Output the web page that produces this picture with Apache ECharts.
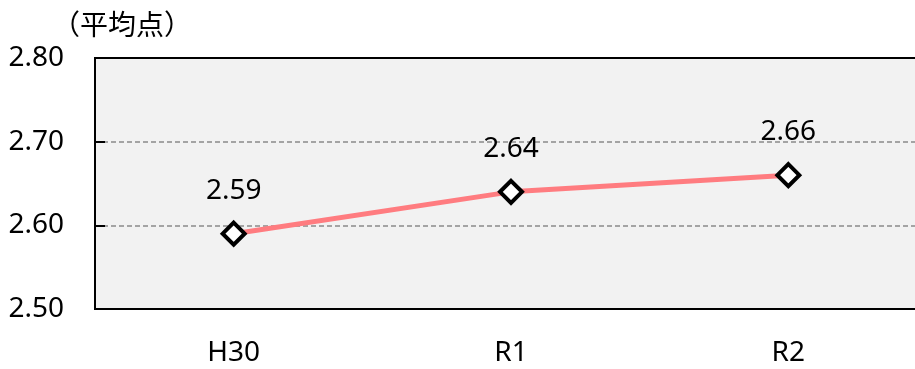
<!DOCTYPE html>
<html>
<head>
<meta charset="utf-8">
<style>
  html, body { margin: 0; padding: 0; background: #ffffff; }
  #chart { width: 915px; height: 369px; }
</style>
<script src="https://cdn.jsdelivr.net/npm/echarts@6/dist/echarts.min.js"></script>
</head>
<body>
<div id="chart"></div>
<script>
// Average score by year
const categories = ['H30', 'R1', 'R2'];
const averageScores = [2.59, 2.64, 2.66];
const yTicks = { min: 2.5, max: 2.8, interval: 0.1 };
const unitLabel = '（平均点）';

const FONT = '"Noto Sans", "Noto Sans CJK JP", sans-serif';
const FONT_SIZE = 28;

const chart = echarts.init(document.getElementById('chart'), null, { renderer: 'canvas' });

chart.setOption({
  backgroundColor: '#ffffff',
  animation: false,
  graphic: [{
    type: 'text',
    left: 52,
    top: 10,
    style: {
      text: unitLabel,
      font: '28px "Noto Sans CJK JP", sans-serif',
      fill: '#000000'
    }
  }],
  grid: {
    left: 95,
    top: 58,
    width: 832,
    height: 251,
    outerBoundsMode: 'none',
    containLabel: false,
    show: true,
    backgroundColor: '#f2f2f2',
    borderColor: '#000000',
    borderWidth: 2
  },
  xAxis: {
    type: 'category',
    data: categories,
    boundaryGap: true,
    axisLine: { show: true, lineStyle: { color: '#000000', width: 2 } },
    axisTick: { show: false },
    axisLabel: {
      color: '#000000',
      fontSize: FONT_SIZE,
      fontFamily: FONT,
      margin: 30
    },
    splitLine: { show: false }
  },
  yAxis: {
    type: 'value',
    min: yTicks.min,
    max: yTicks.max,
    interval: yTicks.interval,
    axisLine: { show: true, lineStyle: { color: '#000000', width: 2 } },
    axisTick: { show: true, inside: true, length: 10, lineStyle: { color: '#000000', width: 2 } },
    axisLabel: {
      color: '#000000',
      fontSize: FONT_SIZE,
      fontFamily: FONT,
      margin: 31,
      formatter: v => v.toFixed(2)
    },
    splitLine: {
      show: true,
      showMinLine: false,
      showMaxLine: false,
      lineStyle: { color: '#8a8a8a', type: [5, 3], width: 1.5 }
    }
  },
  series: [{
    type: 'line',
    data: averageScores,
    lineStyle: { color: '#ff7c80', width: 5 },
    symbol: 'diamond',
    symbolSize: 22,
    itemStyle: { color: '#ffffff', borderColor: '#000000', borderWidth: 4 },
    label: {
      show: true,
      position: 'top',
      distance: 16,
      color: '#000000',
      fontSize: FONT_SIZE,
      fontFamily: FONT,
      formatter: p => p.value.toFixed(2)
    },
    z: 5
  }]
});
</script>
</body>
</html>
